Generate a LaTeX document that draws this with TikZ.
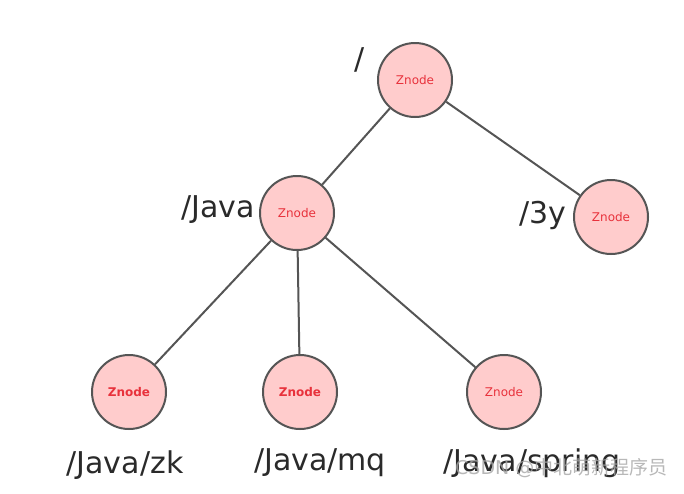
\documentclass[tikz,border=0pt]{standalone}
\usepackage{fontspec}
\setmainfont{DejaVu Sans}
\newfontfamily\cjk{Noto Sans CJK SC}
\usetikzlibrary{positioning}
\definecolor{znfill}{HTML}{FFCCCC}
\definecolor{znline}{HTML}{555555}
\definecolor{zntext}{HTML}{E8323C}
\definecolor{lbltext}{HTML}{2A2A2A}
\begin{document}
\begin{tikzpicture}[x=1pt,y=-1pt]

\tikzstyle{znode}=[circle,draw=znline,line width=2pt,fill=znfill,minimum size=74pt,inner sep=0pt,text=zntext,font=\fontsize{12}{12}\selectfont]
\tikzstyle{leaf}=[znode,font=\fontsize{12}{12}\selectfont\bfseries]
\tikzstyle{path}=[text=lbltext,font=\fontsize{30}{30}\selectfont,inner sep=0pt]
\tikzstyle{edge}=[draw=znline,line width=2pt]

\useasboundingbox (0,0) rectangle (684,493);

% NODES
\node[znode](root) at (415,80){Znode};
\node[znode](java) at (297,213){Znode};
\node[znode](thy) at (611,217){Znode};
\node[leaf](zk) at (129,392){Znode};
\node[leaf](mq) at (300,392){Znode};
\node[znode](spring) at (504,392){Znode};

% LABELS
\node[path](root-l) at (360,60){/};
\node[path](java-l) at (218,210){/Java};
\node[path](thy-l) at (543,215){/3y};
\node[path](zk-l) at (125,465){/Java/zk};
\node[path](mq-l) at (320,463){/Java/mq};
\node[path](spring-l) at (532,463){/Java/spring};

% ARROWS
\draw[edge](root) -- (java);
\draw[edge](root) -- (thy);
\draw[edge](java) -- (zk);
\draw[edge](java) -- (mq);
\draw[edge](java) -- (spring);

% WATERMARK
\node[text=gray!70,opacity=0.8,font=\fontsize{19}{19}\selectfont,anchor=west,inner sep=0pt](wm) at (455,468){CSDN @{\cjk 中北萌新程序员}};

\end{tikzpicture}
\end{document}
